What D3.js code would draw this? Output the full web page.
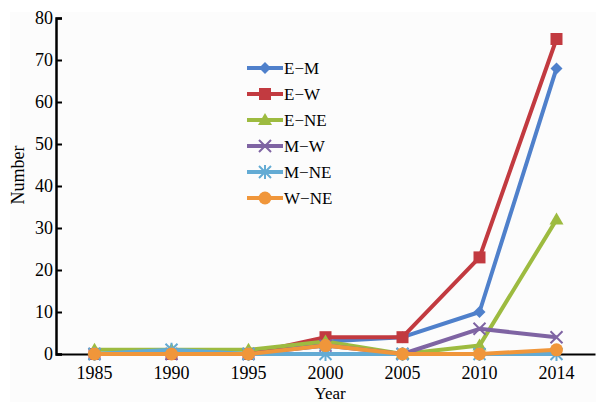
<!DOCTYPE html>
<html><head><meta charset="utf-8">
<script src="https://cdn.jsdelivr.net/npm/d3@7/dist/d3.min.js"></script>
<style>body{margin:0;background:#fff}svg{display:block}</style>
</head><body>
<svg id="c" width="596" height="402"></svg>
<script>
const years = ["1985","1990","1995","2000","2005","2010","2014"];
const yTicks = [0,10,20,30,40,50,60,70,80];
const seriesNames = ["E\u2212M","E\u2212W","E\u2212NE","M\u2212W","M\u2212NE","W\u2212NE"];
const emValues   = [0,0,0,3,4,10,68];
const ewValues   = [0,0,0,4,4,23,75];
const eneValues  = [1,1,1,3,0,2,32];
const mwValues   = [0,0,0,2,0,6,4];
const mneValues  = [0,1,0,0,0,0,0];
const wneValues  = [0,0,0,2,0,0,1];
const colors = ["#4f80cb","#c23a40","#9dbb40","#7f64a3","#63abd4","#f0963a"];
const markers = ["diamond","square","triangle","x","star","circle"];
const allValues = [emValues,ewValues,eneValues,mwValues,mneValues,wneValues];

const svg = d3.select("#c");
svg.append("rect").attr("x",10).attr("y",12).attr("width",586).attr("height",390).attr("fill","#fcfcfc");

const x = d3.scaleBand().domain(years).range([56,595]);
const y = d3.scaleLinear().domain([0,80]).range([354,18]);
const font = "'Liberation Serif','Times New Roman',serif";

// y axis
const ya = svg.append("g").attr("transform","translate(56,0)")
  .call(d3.axisLeft(y).tickValues(yTicks).tickSize(-6).tickPadding(3));
ya.select(".domain").attr("stroke","#000").attr("stroke-width",2.5);
ya.selectAll(".tick line").attr("stroke","#000").attr("stroke-width",2);
ya.selectAll("text").attr("font-family",font).attr("font-size",18).attr("fill","#000").attr("x",-3);

// x axis
const xa = svg.append("g").attr("transform","translate(0,354)")
  .call(d3.axisBottom(x).tickSize(0).tickPadding(12));
xa.select(".domain").attr("stroke","#000").attr("stroke-width",2);
xa.selectAll("text").attr("font-family",font).attr("font-size",18).attr("fill","#000");

svg.append("text").attr("transform","translate(24,175) rotate(-90)").attr("text-anchor","middle")
  .attr("font-family",font).attr("font-size",18).text("Number");
svg.append("text").attr("x",330).attr("y",399).attr("text-anchor","middle")
  .attr("font-family",font).attr("font-size",17).text("Year");

const cx = d => x(d) + x.bandwidth()/2;
function drawMarker(g, type, px, py, color){
  if(type==="diamond"){
    g.append("path").attr("d",`M${px},${py-6}L${px+6},${py}L${px},${py+6}L${px-6},${py}Z`).attr("fill",color);
  } else if(type==="square"){
    g.append("rect").attr("x",px-6).attr("y",py-6).attr("width",12).attr("height",12).attr("fill",color);
  } else if(type==="triangle"){
    g.append("path").attr("d",`M${px},${py-7}L${px+7},${py+5}L${px-7},${py+5}Z`).attr("fill",color);
  } else if(type==="x"){
    g.append("path").attr("d",`M${px-6},${py-6}L${px+6},${py+6}M${px+6},${py-6}L${px-6},${py+6}`).attr("stroke",color).attr("stroke-width",2);
  } else if(type==="star"){
    g.append("path").attr("d",`M${px-6},${py-6}L${px+6},${py+6}M${px+6},${py-6}L${px-6},${py+6}M${px},${py-7}L${px},${py+7}`).attr("stroke",color).attr("stroke-width",2);
  } else {
    g.append("circle").attr("cx",px).attr("cy",py).attr("r",6.5).attr("fill",color);
  }
}

const line = d3.line().x((d,i)=>cx(years[i])).y(d=>y(d));
allValues.forEach((vals,si)=>{
  const g = svg.append("g");
  g.append("path").datum(vals).attr("d",line).attr("fill","none")
    .attr("stroke",colors[si]).attr("stroke-width",4).attr("stroke-linejoin","round");
  vals.forEach((v,i)=>drawMarker(g, markers[si], cx(years[i]), y(v), colors[si]));
});

// legend
const lg = svg.append("g");
seriesNames.forEach((n,i)=>{
  const ly = 68 + i*26;
  lg.append("line").attr("x1",247).attr("x2",283).attr("y1",ly).attr("y2",ly)
    .attr("stroke",colors[i]).attr("stroke-width",4);
  drawMarker(lg, markers[i], 265, ly, colors[i]);
  lg.append("text").attr("x",284).attr("y",ly+6).attr("font-family",font).attr("font-size",17).text(n);
});
</script>
</body></html>
